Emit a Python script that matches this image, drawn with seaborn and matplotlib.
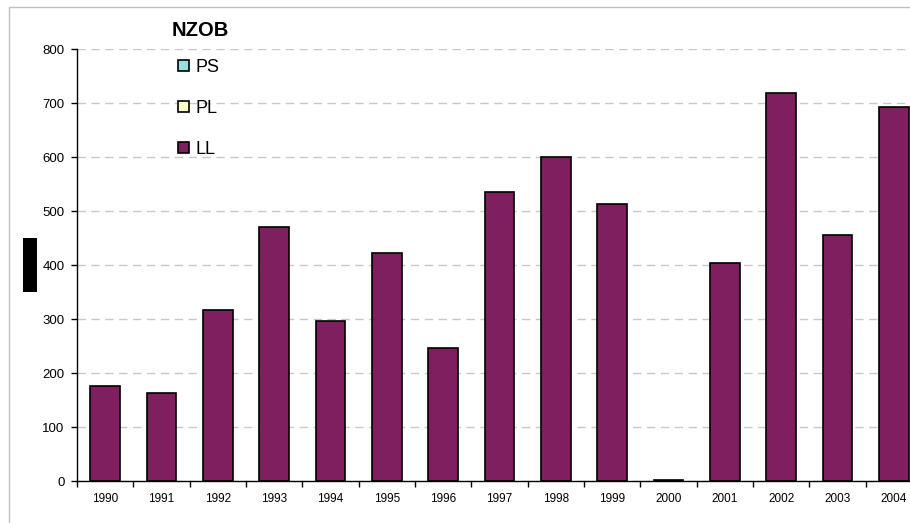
import matplotlib
matplotlib.use("Agg")
import matplotlib.pyplot as plt
from matplotlib.patches import Patch, Rectangle
import numpy as np
import pandas as pd
import seaborn as sns

# chart data
years = ["1990", "1991", "1992", "1993", "1994", "1995", "1996", "1997",
         "1998", "1999", "2000", "2001", "2002", "2003", "2004"]
ll_values = [176, 163, 317, 470, 297, 422, 246, 535,
             600, 513, 2, 404, 718, 456, 693]
legend_labels = ["PS", "PL", "LL"]
legend_colors = ["#99E0E0", "#FFFFCC", "#7F1F5F"]
y_ticks = [0, 100, 200, 300, 400, 500, 600, 700, 800]

sns.set_theme(style="white")
plt.rcParams["font.family"] = ["Liberation Sans", "DejaVu Sans"]
plt.rcParams["text.color"] = "black"

df = pd.DataFrame({"year": years, "LL": ll_values})

fig = plt.figure(figsize=(9.1, 5.23), dpi=100)
# plot area runs past the right edge, as in the source picture
ax = fig.add_axes([77 / 910, 42 / 523, 845 / 910, 432 / 523])

sns.barplot(data=df, x="year", y="LL", color=legend_colors[2], width=0.526,
            edgecolor="black", linewidth=1.2, saturation=1, ax=ax, zorder=3)

ax.set_xlim(-0.5, len(years) - 0.5)
ax.set_ylim(0, 800)
ax.set_yticks(y_ticks)
ax.set_yticklabels([str(v) for v in y_ticks], fontsize=9.5)
ax.set_xticks(range(len(years)))
ax.set_xticklabels(years, fontsize=8.5)
ax.set_xticks(np.arange(-0.5, len(years), 1), minor=True)
ax.tick_params(axis="x", which="major", length=0, pad=9, colors="black")
ax.tick_params(axis="x", which="minor", length=4, width=1, direction="out",
               color="black", bottom=True)
ax.tick_params(axis="y", length=4, width=1, direction="out", color="black",
               left=True, pad=5, colors="black")
ax.set_xlabel("")
ax.set_ylabel("")

ax.grid(axis="y", color="#C8C8C8", linestyle=(0, (6, 4)), linewidth=1, zorder=0)
ax.set_axisbelow(True)
for side in ["top", "right"]:
    ax.spines[side].set_visible(False)
for side in ["left", "bottom"]:
    ax.spines[side].set_color("black")
    ax.spines[side].set_linewidth(1)
    ax.spines[side].set_zorder(4)

# legend title drawn on its own so the entries can sit closer to it
fig.text(200.5 / 910, 1 - 36 / 523, "NZOB", ha="center", va="baseline",
         fontsize=14.5, fontweight="bold", color="black")
handles = [Patch(facecolor=c, edgecolor="black", linewidth=1.2) for c in legend_colors]
leg = fig.legend(handles, legend_labels, loc="upper left",
                 bbox_to_anchor=(169 / 910, 1 - 50 / 523), frameon=False,
                 fontsize=13, labelspacing=1.32, handlelength=0.6,
                 handleheight=0.6, handletextpad=0.35, borderpad=0)
for t in leg.get_texts():
    t.set_color("black")

# outer chart border
fig.patches.append(Rectangle((9 / 910, -0.1), 1.2, 1 - 7 / 523 + 0.1,
                             transform=fig.transFigure, fill=False,
                             edgecolor="#C0C0C0", linewidth=1))
# blacked-out axis title
fig.patches.append(Rectangle((23 / 910, 1 - 292 / 523), 14 / 910, 54 / 523,
                             transform=fig.transFigure, facecolor="black",
                             edgecolor="none"))

fig.savefig("out.png", dpi=100)
